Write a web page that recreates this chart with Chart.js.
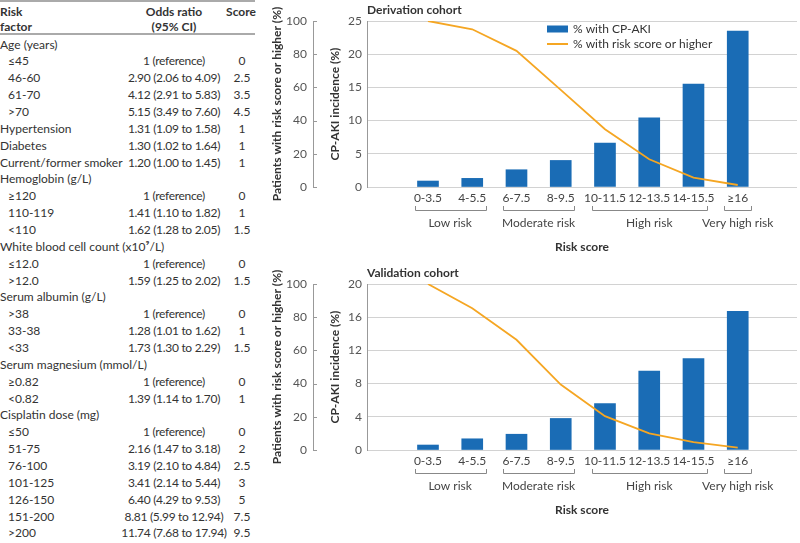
<!DOCTYPE html>
<html>
<head>
<meta charset="utf-8">
<script src="https://cdn.jsdelivr.net/npm/chart.js@4/dist/chart.umd.min.js"></script>
<style>
  body { margin: 0; width: 800px; height: 543px; overflow: hidden; background: #fff; position: relative; font-family: Lato, sans-serif; color: #333; }
  #table { position: absolute; left: 0; top: 0; width: 256px; height: 543px; font-size: 12px; }
  .rule { position: absolute; left: 0; width: 255px; height: 0; border-top: 2px solid #aaa; }
  .row { position: absolute; left: 0; width: 256px; height: 17px; line-height: 17px; white-space: nowrap; }
  .lab { position: absolute; left: 0; }
  .lab.sub { left: 8px; }
  .or { position: absolute; left: 114px; width: 120px; text-align: center; letter-spacing: -0.3px; }
  .sc { position: absolute; left: 228px; width: 28px; text-align: center; }
  .hd { font-weight: bold; line-height: 15px; }
  .box { position: absolute; left: 270px; width: 530px; height: 263px; }
</style>
</head>
<body>
<div id="table"></div>
<div class="box" style="top:0"><canvas id="derivation" width="530" height="263"></canvas></div>
<div class="box" style="top:263px"><canvas id="validation" width="530" height="263"></canvas></div>
<script>
// table on the left
const rowLabels = ['Age (years)', '≤45', '46-60', '61-70', '>70', 'Hypertension', 'Diabetes', 'Current/former smoker',
  'Hemoglobin (g/L)', '≥120', '110-119', '<110', 'White blood cell count (x10⁹/L)', '≤12.0', '>12.0',
  'Serum albumin (g/L)', '>38', '33-38', '<33', 'Serum magnesium (mmol/L)', '≥0.82', '<0.82',
  'Cisplatin dose (mg)', '≤50', '51-75', '76-100', '101-125', '126-150', '151-200', '>200'];
const rowOdds = ['', '1 (reference)', '2.90 (2.06 to 4.09)', '4.12 (2.91 to 5.83)', '5.15 (3.49 to 7.60)',
  '1.31 (1.09 to 1.58)', '1.30 (1.02 to 1.64)', '1.20 (1.00 to 1.45)',
  '', '1 (reference)', '1.41 (1.10 to 1.82)', '1.62 (1.28 to 2.05)', '', '1 (reference)', '1.59 (1.25 to 2.02)',
  '', '1 (reference)', '1.28 (1.01 to 1.62)', '1.73 (1.30 to 2.29)', '', '1 (reference)', '1.39 (1.14 to 1.70)',
  '', '1 (reference)', '2.16 (1.47 to 3.18)', '3.19 (2.10 to 4.84)', '3.41 (2.14 to 5.44)', '6.40 (4.29 to 9.53)',
  '8.81 (5.99 to 12.94)', '11.74 (7.68 to 17.94)'];
const rowScores = ['', '0', '2.5', '3.5', '4.5', '1', '1', '1', '', '0', '1', '1.5', '', '0', '1.5',
  '', '0', '1', '1.5', '', '0', '1', '', '0', '2', '2.5', '3', '5', '7.5', '9.5'];
const subRows = [1, 2, 3, 4, 9, 10, 11, 13, 14, 16, 17, 18, 20, 21, 23, 24, 25, 26, 27, 28, 29];

// charts
const riskScores = ['0-3.5', '4-5.5', '6-7.5', '8-9.5', '10-11.5', '12-13.5', '14-15.5', '≥16'];
const groupLabels = ['Low risk', 'Moderate risk', 'High risk', 'Very high risk'];
const groupFirst = [0, 2, 4, 7];
const groupLast = [1, 3, 6, 7];
const derivationAki = [0.9, 1.3, 2.6, 4.0, 6.6, 10.4, 15.5, 23.5];
const derivationHigher = [100, 95, 82, 58.5, 34.8, 16.7, 5.6, 1.2];
const validationAki = [0.6, 1.35, 1.9, 3.8, 5.6, 9.5, 11.0, 16.7];
const validationHigher = [100, 85.4, 66.4, 39.4, 20.4, 10, 4.8, 1.4];

const tbl = document.getElementById('table');
tbl.innerHTML =
  '<div class="rule" style="top:0"></div>' +
  '<div class="rule" style="top:33px"></div>' +
  '<div class="hd" style="position:absolute;left:0;top:4px">Risk<br>factor</div>' +
  '<div class="hd" style="position:absolute;left:114px;width:120px;top:4px;text-align:center">Odds ratio<br>(95% CI)</div>' +
  '<div class="hd" style="position:absolute;left:223px;width:36px;top:4px;text-align:center">Score</div>';
rowLabels.forEach((lab, i) => {
  const r = document.createElement('div');
  r.className = 'row';
  r.style.top = (44 + i * 16.86 - 8.5) + 'px';
  const sub = subRows.includes(i) ? ' sub' : '';
  r.innerHTML = `<span class="lab${sub}"></span><span class="or"></span><span class="sc"></span>`;
  r.children[0].textContent = lab;
  r.children[1].textContent = rowOdds[i];
  r.children[2].textContent = rowScores[i];
  tbl.appendChild(r);
});

Chart.defaults.font.family = 'Lato, sans-serif';
Chart.defaults.color = '#555';

function drawChart(id, title, aki, higher, yMax, yStep, showLegend) {
  const colBar = '#1a6cb5';
  const colLine = '#f5a623';
  const decor = {
    id: 'decor',
    afterDraw(chart) {
      const ctx = chart.ctx;
      const area = chart.chartArea;
      const xs = chart.scales.x;
      const y1 = chart.scales.y1;
      ctx.save();
      // panel title
      ctx.fillStyle = '#333';
      ctx.font = 'bold 12px Lato, sans-serif';
      ctx.textBaseline = 'middle';
      ctx.textAlign = 'left';
      ctx.fillText(title, area.left, 10);
      // small inward ticks on the left axis
      ctx.strokeStyle = '#999';
      ctx.lineWidth = 1;
      y1.ticks.forEach(t => {
        const py = Math.round(y1.getPixelForValue(t.value)) + 0.5;
        ctx.beginPath();
        ctx.moveTo(y1.right, py);
        ctx.lineTo(y1.right + 4, py);
        ctx.stroke();
      });
      // risk group brackets
      ctx.strokeStyle = '#888';
      ctx.fillStyle = '#444';
      ctx.font = '12px Lato, sans-serif';
      ctx.textAlign = 'center';
      groupLabels.forEach((g, i) => {
        const x1 = Math.round(xs.getPixelForValue(groupFirst[i] - 0.3)) + 0.5;
        const x2 = Math.round(xs.getPixelForValue(groupLast[i] + 0.3)) + 0.5;
        ctx.beginPath();
        ctx.moveTo(x1, 206);
        ctx.lineTo(x1, 210.5);
        ctx.lineTo(x2, 210.5);
        ctx.lineTo(x2, 206);
        ctx.stroke();
        const cx = (xs.getPixelForValue(groupFirst[i]) + xs.getPixelForValue(groupLast[i])) / 2;
        ctx.fillText(g, cx, 223);
      });
      // legend
      if (showLegend) {
        const lx = area.left + 180;
        ctx.fillStyle = colBar;
        ctx.fillRect(lx, 25.5, 21, 7);
        ctx.strokeStyle = colLine;
        ctx.lineWidth = 2;
        ctx.beginPath();
        ctx.moveTo(lx, 44);
        ctx.lineTo(lx + 21, 44);
        ctx.stroke();
        ctx.fillStyle = '#333';
        ctx.font = '12px Lato, sans-serif';
        ctx.textAlign = 'left';
        ctx.fillText(chart.data.datasets[1].label, lx + 26, 29);
        ctx.fillText(chart.data.datasets[0].label, lx + 26, 44);
      }
      ctx.restore();
    }
  };

  new Chart(document.getElementById(id), {
    type: 'bar',
    data: {
      datasets: [{
        type: 'line',
        label: '% with risk score or higher',
        data: higher.map((v, i) => ({ x: i, y: v })),
        yAxisID: 'y1',
        borderColor: colLine,
        borderWidth: 1.8,
        pointRadius: 0,
        tension: 0,
        order: 0
      }, {
        type: 'bar',
        label: '% with CP-AKI',
        data: aki.map((v, i) => ({ x: i, y: v })),
        yAxisID: 'y',
        backgroundColor: colBar,
        barThickness: 21,
        order: 1
      }]
    },
    options: {
      responsive: false,
      animation: false,
      layout: { padding: { top: 21, right: 3, bottom: 0, left: 0 } },
      plugins: { legend: { display: false }, tooltip: { enabled: false } },
      scales: {
        x: {
          type: 'linear',
          min: -0.771,
          max: 7.732,
          afterBuildTicks: s => { s.ticks = riskScores.map((_, i) => ({ value: i })); },
          ticks: { callback: v => riskScores[v], autoSkip: false, maxRotation: 0, padding: 4, color: '#444', font: { size: 12 } },
          grid: { display: false, drawTicks: false },
          border: { display: false },
          title: { display: true, text: 'Risk score', color: '#333', font: { size: 12, weight: 'bold' }, padding: { top: 0, bottom: 8.8 } },
          afterFit: s => { s.height = 76; }
        },
        y: {
          position: 'left',
          weight: 0,
          min: 0,
          max: yMax,
          ticks: { stepSize: yStep, padding: 5, color: '#555', font: { size: 12 } },
          grid: { color: '#d2d2d2', drawTicks: false },
          border: { display: true, color: '#999' },
          title: { display: true, text: 'CP-AKI incidence (%)', color: '#333', font: { size: 12, weight: 'bold' }, padding: { top: 14.8, bottom: 0 } },
          afterFit: s => { s.width = 54; }
        },
        y1: {
          position: 'left',
          weight: 1,
          min: 0,
          max: 100,
          ticks: { stepSize: 20, padding: 6, color: '#555', font: { size: 12 } },
          grid: { display: false, drawTicks: false },
          border: { display: true, color: '#999' },
          title: { display: true, text: 'Patients with risk score or higher (%)', color: '#333', font: { size: 12, weight: 'bold' }, padding: { top: 0, bottom: 0 } },
          afterFit: s => { s.width = 43; }
        }
      }
    },
    plugins: [decor]
  });
}

drawChart('derivation', 'Derivation cohort', derivationAki, derivationHigher, 25, 5, true);
drawChart('validation', 'Validation cohort', validationAki, validationHigher, 20, 4, false);
</script>
</body>
</html>
